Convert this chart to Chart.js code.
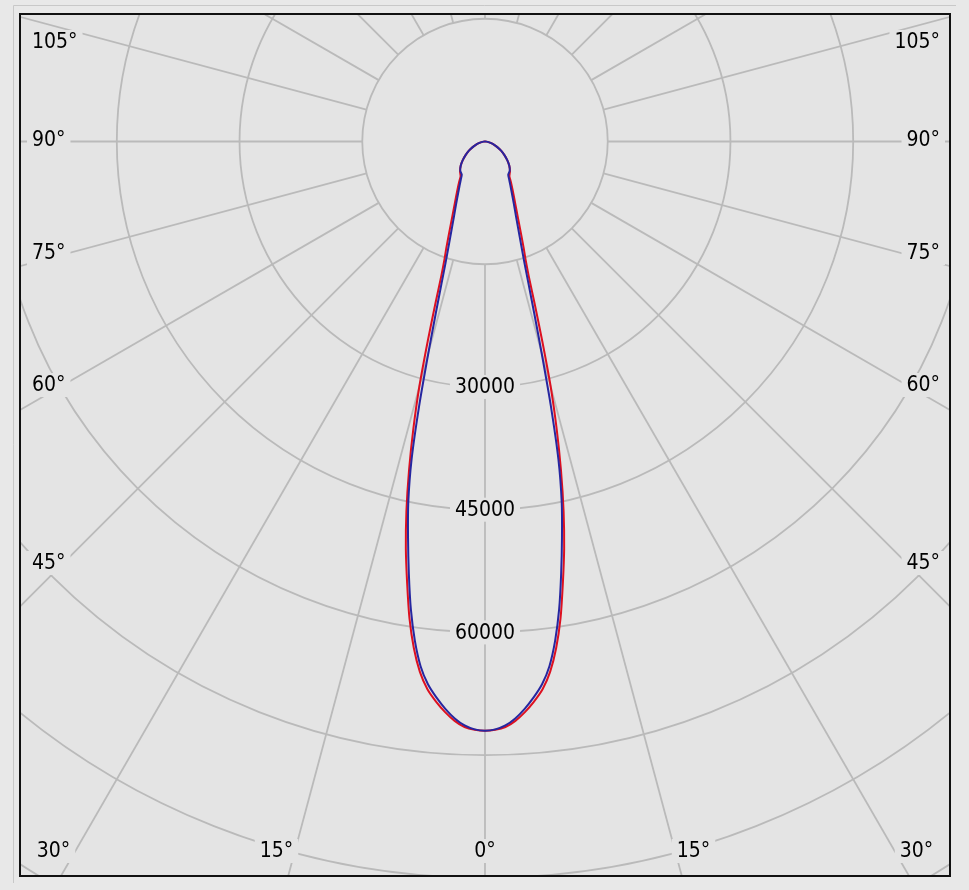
<!DOCTYPE html>
<html>
<head>
<meta charset="utf-8">
<script src="https://cdn.jsdelivr.net/npm/chart.js@4.4.1/dist/chart.umd.min.js"></script>
<style>
  html, body { margin: 0; padding: 0; background: #e8e8e8; }
  canvas { display: block; }
</style>
</head>
<body>
<canvas id="polar" width="969" height="890"></canvas>
<script>
// gamma angle in degrees, intensity in cd
var gammaAngles = [0, 1, 2, 3, 4, 5, 6, 7, 8, 9, 10, 11, 12, 13, 14, 15, 16, 17, 18, 19, 20, 22.5, 25, 27.5, 30, 32.5, 35, 40, 45, 50, 55, 60, 65, 70, 75, 80, 85, 90]
var planeC0 = [72000, 71900, 71600, 70900, 69900, 68700, 67300, 65300, 62500, 59000, 54800, 50700, 46200, 41300, 36200, 31000, 25400, 20800, 17300, 15200, 13800, 10900, 9000, 7700, 6700, 5900, 5200, 4750, 4200, 3550, 2900, 2300, 1700, 1200, 780, 430, 180, 0]
var planeC90 = [72000, 71850, 71400, 70600, 69500, 68200, 66700, 64600, 61600, 57900, 53600, 49300, 45100, 39900, 33200, 26700, 21800, 18200, 15600, 13800, 12400, 9900, 8300, 7100, 6200, 5500, 4950, 4700, 4200, 3550, 2900, 2300, 1700, 1200, 780, 430, 180, 0]

var circleValues = [15000, 30000, 45000, 60000, 75000, 90000, 105000, 120000, 135000]
var circleLabels = [30000, 45000, 60000]
var spokeAngles = [0, 15, 30, 45, 60, 75, 90, 105, 120, 135, 150, 165, 180, 195, 210, 225, 240, 255, 270, 285, 300, 315, 330, 345]
var bottomAngleLabels = ['30°', '15°', '0°', '15°', '30°']
var sideAngleLabels = ['45°', '60°', '75°', '90°', '105°']

var bgColor = '#e4e4e4'
var gridColor = '#bababa'
var labelFont = '21px "DejaVu Sans Condensed", "DejaVu Sans", sans-serif'

// angle 0 points straight down, left half mirrored
var toPoints = function(values) {
  var pts = []
  for (var i = gammaAngles.length - 1; i >= 0; i--) {
    var a = gammaAngles[i] * Math.PI / 180
    pts.push({ x: -values[i] * Math.sin(a), y: -values[i] * Math.cos(a) })
  }
  for (var j = 1; j < gammaAngles.length; j++) {
    var b = gammaAngles[j] * Math.PI / 180
    pts.push({ x: values[j] * Math.sin(b), y: -values[j] * Math.cos(b) })
  }
  return pts
}

var drawMaskedText = function(ctx, text, x, y, align) {
  ctx.font = labelFont
  var w = ctx.measureText(text).width
  var left = align === 'left' ? x : (align === 'right' ? x - w : x - w / 2)
  ctx.fillStyle = bgColor
  ctx.fillRect(left - 5, y - 12, w + 10, 24)
  ctx.fillStyle = '#000'
  ctx.textAlign = align
  ctx.textBaseline = 'middle'
  ctx.fillText(text, x, y + 1)
}

var polarGrid = {
  id: 'polarGrid',
  beforeDraw: function(chart) {
    var ctx = chart.ctx
    var area = chart.chartArea
    ctx.save()
    ctx.fillStyle = '#e8e8e8'
    ctx.fillRect(0, 0, chart.width, chart.height)
    ctx.strokeStyle = '#c8c8c8'
    ctx.lineWidth = 1
    ctx.beginPath()
    ctx.moveTo(13.5, 883)
    ctx.lineTo(13.5, 5.5)
    ctx.lineTo(956, 5.5)
    ctx.stroke()
    ctx.fillStyle = bgColor
    ctx.fillRect(area.left, area.top, area.right - area.left, area.bottom - area.top)
    ctx.restore()
  },
  beforeDatasetsDraw: function(chart) {
    var ctx = chart.ctx
    var area = chart.chartArea
    var xs = chart.scales.x
    var ys = chart.scales.y
    var cx = xs.getPixelForValue(0)
    var cy = ys.getPixelForValue(0)
    var px = function(v) { return xs.getPixelForValue(v) - cx }

    ctx.save()
    ctx.beginPath()
    ctx.rect(area.left, area.top, area.right - area.left, area.bottom - area.top)
    ctx.clip()
    ctx.strokeStyle = gridColor
    ctx.lineWidth = 1.8

    circleValues.forEach(function(v) {
      ctx.beginPath()
      ctx.arc(cx, cy, px(v), 0, Math.PI * 2)
      ctx.stroke()
    })

    var inner = px(circleValues[0])
    var outer = px(circleValues[circleValues.length - 1])
    spokeAngles.forEach(function(deg) {
      var a = deg * Math.PI / 180
      ctx.beginPath()
      ctx.moveTo(cx + inner * Math.sin(a), cy + inner * Math.cos(a))
      ctx.lineTo(cx + outer * Math.sin(a), cy + outer * Math.cos(a))
      ctx.stroke()
    })

    circleLabels.forEach(function(v) {
      drawMaskedText(ctx, String(v), cx, cy + px(v), 'center')
    })

    var bottomX = [-431.5, -208.5, 0, 208.5, 431.5]
    bottomAngleLabels.forEach(function(t, i) {
      drawMaskedText(ctx, t, cx + bottomX[i], area.bottom - 25, 'center')
    })
    var sideY = [421.5, 243.5, 111.5, -1.5, -99.5]
    sideAngleLabels.forEach(function(t, i) {
      drawMaskedText(ctx, t, area.left + 12, cy + sideY[i], 'left')
      drawMaskedText(ctx, t, area.right - 10, cy + sideY[i], 'right')
    })
    ctx.restore()
  },
  afterDraw: function(chart) {
    var ctx = chart.ctx
    var area = chart.chartArea
    ctx.save()
    ctx.strokeStyle = '#111'
    ctx.lineWidth = 2
    ctx.strokeRect(area.left, area.top, area.right - area.left, area.bottom - area.top)
    ctx.restore()
  }
}

var chart = new Chart(document.getElementById('polar'), {
  type: 'scatter',
  data: {
    datasets: [{
      label: 'C90-C270',
      data: toPoints(planeC90),
      showLine: true,
      borderColor: '#2626a0',
      borderWidth: 2,
      pointRadius: 0,
      tension: 0.2,
      order: 0
    }, {
      label: 'C0-C180',
      data: toPoints(planeC0),
      showLine: true,
      borderColor: '#dd1020',
      borderWidth: 2,
      pointRadius: 0,
      tension: 0.2,
      order: 1
    }]
  },
  options: {
    responsive: false,
    animation: false,
    layout: { padding: { left: 20, top: 14, right: 19, bottom: 14 } },
    plugins: { legend: { display: false }, tooltip: { enabled: false } },
    scales: {
      x: { type: 'linear', display: false, min: -56830, max: 56830 },
      y: { type: 'linear', display: false, min: -89760, max: 15580 }
    }
  },
  plugins: [polarGrid]
})
</script>
</body>
</html>
